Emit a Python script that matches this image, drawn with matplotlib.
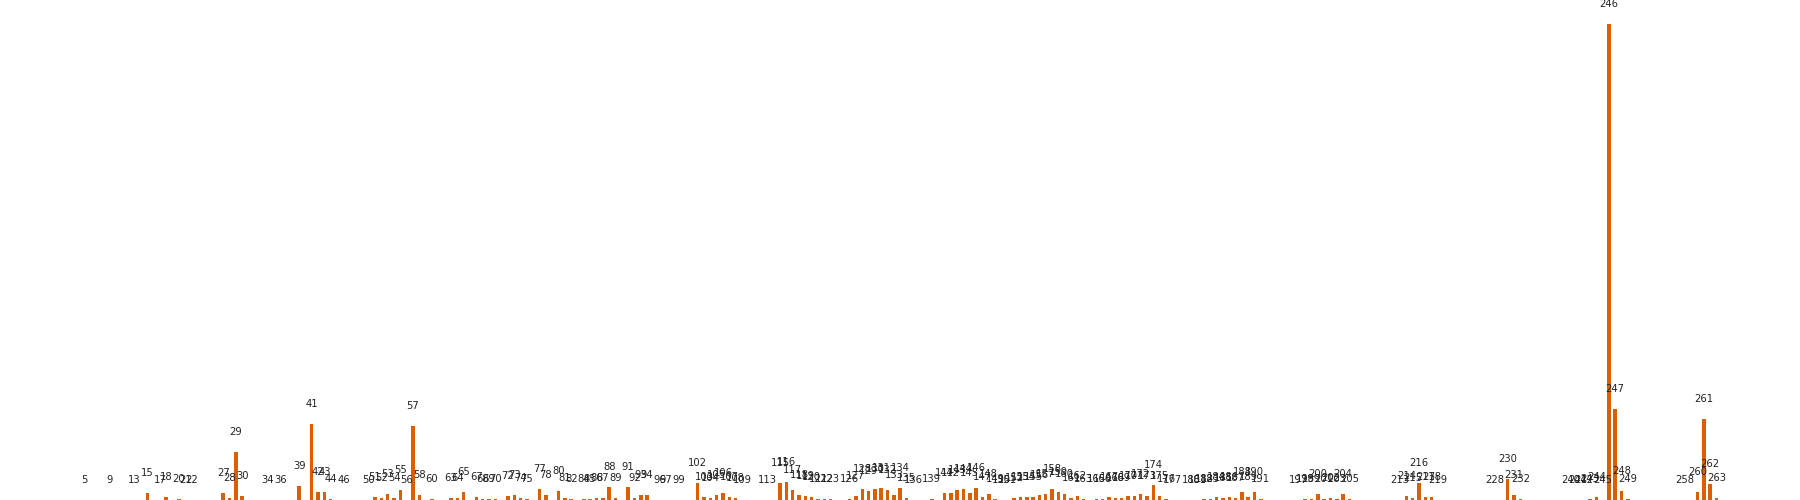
import matplotlib
matplotlib.use("Agg")
import matplotlib.pyplot as plt
from matplotlib import font_manager

# bar positions (ids shown as labels) and bar heights
ids = [5, 9, 13, 15, 17, 18, 20, 21, 22, 27, 28, 29, 30, 34, 36, 39, 41, 42, 43, 44, 46,
       50, 51, 52, 53, 54, 55, 56, 57, 58, 60, 63, 64, 65, 67, 68, 69, 70, 72, 73, 74, 75,
       77, 78, 80, 81, 82, 84, 85, 86, 87, 88, 89,
       91, 92, 93, 94, 96, 97, 99, 102, 103, 104, 105, 106, 107, 108, 109, 113,
       115, 116, 117, 118, 119, 120, 121, 122, 123, 126, 127, 128, 129, 130, 131, 132,
       133, 134, 135, 136, 139,
       141, 142, 143, 144, 145, 146, 147, 148, 149, 150, 151, 152, 153, 154, 155, 156,
       157, 158, 159, 160, 161, 162, 163, 165, 166, 167, 168, 169, 170, 171, 172, 173,
       174, 175, 176, 177,
       180, 181, 182, 183, 184, 185, 186, 187, 188, 189, 190, 191,
       197, 198, 199, 200, 201, 202, 203, 204, 205,
       213, 214, 215, 216, 217, 218, 219,
       228, 230, 231, 232,
       240, 241, 242, 243, 244, 245, 246, 247, 248, 249,
       258, 260, 261, 262, 263]

heights = [0, 0, 0, 7, 0, 3, 1, 0, 0, 7, 2, 48, 4, 0, 0, 14, 76, 8, 8, 1, 0,
           0, 3, 2, 6, 2, 10, 0, 74, 5, 1, 2, 2, 8, 3, 1, 1, 1, 4, 5, 2, 1,
           11, 5, 9, 2, 1, 1, 1, 2, 2, 13, 2,
           13, 2, 5, 5, 0, 0, 0, 17, 3, 2, 5, 7, 3, 2, 0, 0,
           17, 18, 10, 5, 4, 3, 1, 1, 1, 1, 4, 11, 9, 11, 12, 10,
           5, 12, 2, 0, 1,
           7, 7, 10, 11, 7, 12, 3, 6, 1, 0, 0, 2, 3, 3, 3, 5,
           6, 11, 8, 6, 2, 4, 1, 1, 1, 3, 2, 2, 4, 4, 6, 4,
           15, 4, 1, 0,
           0, 0, 1, 1, 3, 2, 3, 2, 8, 3, 8, 1,
           0, 1, 1, 6, 1, 2, 1, 6, 1,
           0, 4, 2, 17, 3, 3, 0,
           0, 21, 5, 1,
           0, 0, 0, 1, 3, 0, 476, 91, 9, 1,
           0, 8, 81, 16, 2]

installed = {f.name for f in font_manager.fontManager.ttflist}
label_font = ["Liberation Sans Narrow", "DejaVu Sans"] if "Liberation Sans Narrow" in installed else ["DejaVu Sans"]

fig = plt.figure(figsize=(18, 5), dpi=100)
ax = fig.add_axes([0, 0, 1, 1])

ax.bar(ids, heights, width=0.55, color="#d95f02")

for i, h in zip(ids, heights):
    ax.annotate(str(i), (i, h), xytext=(0, 14.5), textcoords="offset points",
                ha="center", va="center", fontsize=7.2, color="#222222", family=label_font)

ax.set_xlim(-8.27, 276.2)
ax.set_ylim(0, 500)
ax.axis("off")

fig.savefig("out.png", dpi=100)
